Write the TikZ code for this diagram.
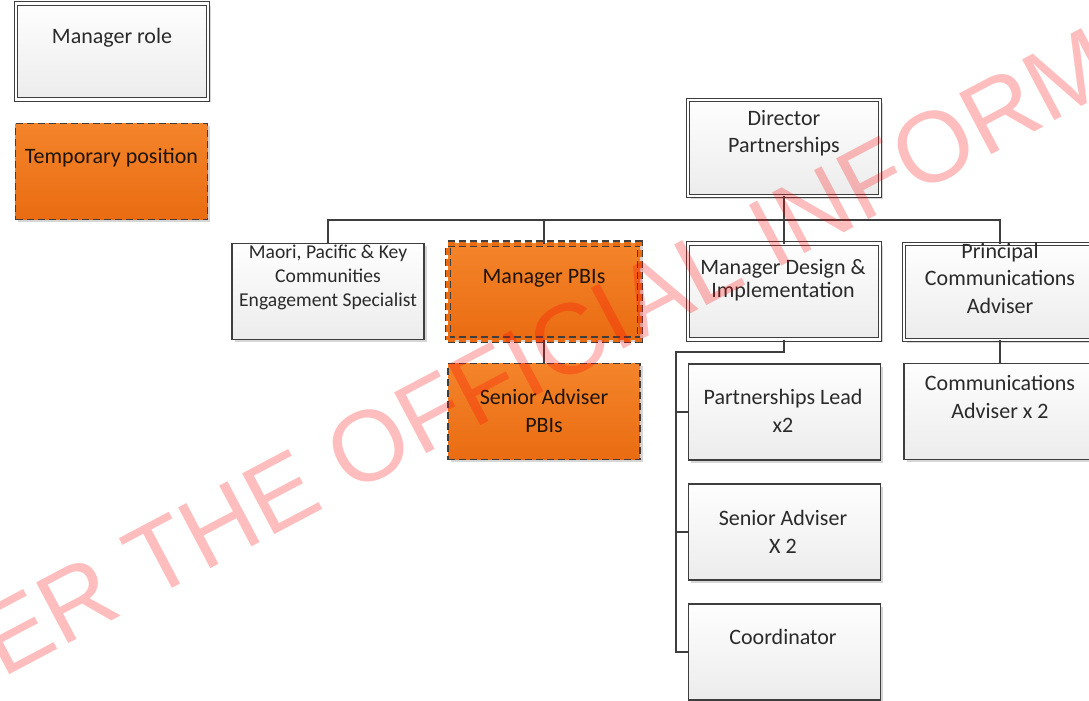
\documentclass[tikz,border=0pt]{standalone}
\usepackage{fontspec}
\setmainfont{Carlito}
\newfontfamily\wmfont{Liberation Sans}
\usetikzlibrary{shadows}
\definecolor{edge}{RGB}{62,62,62}
\definecolor{ink}{RGB}{42,42,42}
\definecolor{inkdark}{RGB}{30,20,12}
\definecolor{boxtop}{RGB}{254,254,254}
\definecolor{boxbot}{RGB}{236,236,236}
\definecolor{orgtop}{RGB}{244,132,42}
\definecolor{orgbot}{RGB}{234,108,18}
\definecolor{wmred}{RGB}{255,0,0}

\begin{document}
\begin{tikzpicture}[x=1pt,y=-1pt,
  box/.style={rectangle, minimum width=192pt, minimum height=96pt,
    inner sep=0pt, outer sep=0pt, draw=edge, line width=1.3pt,
    top color=boxtop, bottom color=boxbot,
    drop shadow={shadow xshift=2.5pt, shadow yshift=-2.5pt, fill=black!16, opacity=1}},
  mgrbox/.style={box, double=white, double distance=2.4pt, line width=1.1pt},
  tempbox/.style={box, top color=orgtop, bottom color=orgbot,
    dash pattern=on 7pt off 4pt},
  tempmgrbox/.style={tempbox, double=orgbot, double distance=4pt, line width=1.1pt},
  txt/.style={align=center, text=ink, inner sep=0pt,
    font=\fontsize{22}{27.5}\selectfont},
  txtdark/.style={txt, text=inkdark},
  link/.style={draw=edge, line width=1.3pt},
]
\useasboundingbox (0,0) rectangle (1089,701);

% legend
\node[mgrbox] (role) at (112,51.5) {};
\node[txt] (roleT) at (112,38) {Manager role};
\node[tempbox] (temp) at (111.5,171.5) {};
\node[txtdark] (tempT) at (111.5,158) {Temporary position};

% boxes
\node[mgrbox] (dir) at (784,148) {};
\node[box] (maori) at (328,291.5) {};
\node[tempmgrbox] (pbi) at (544,291.5) {};
\node[tempbox] (spbi) at (544,411.5) {};
\node[mgrbox] (mdi) at (784,291.5) {};
\node[mgrbox] (pca) at (1000,292) {};
\node[box] (cadv) at (1000,411.5) {};
\node[box] (pl) at (784.5,412) {};
\node[box] (sa) at (784.5,532) {};
\node[box] (coord) at (784.5,652) {};

% box texts
\node[txt] (dirT) at (784,133) {Director\\Partnerships};
\node[txt, font=\fontsize{19.6}{24}\selectfont] (maoriT) at (328,277)
  {Maori, Pacific \& Key\\Communities\\Engagement Specialist};
\node[txtdark] (pbiT) at (544,278) {Manager PBIs};
\node[txt, font=\fontsize{22}{22.5}\selectfont] (mdiT) at (783,280)
  {Manager Design \&\\Implementation};
\node[txt] (pcaT) at (1000,278) {Principal\\Communications\\Adviser};
\node[txtdark] (spbiT) at (544,411) {Senior Adviser\\PBIs};
\node[txt] (plT) at (783,411) {Partnerships Lead\\x2};
\node[txt] (cadvT) at (1000,397) {Communications\\Adviser x 2};
\node[txt] (saT) at (783,532) {Senior Adviser\\X 2};
\node[txt] (coordT) at (783,637) {Coordinator};

% connectors
\coordinate (bus) at (784,220);
\coordinate (spine) at (676,352);
\draw[link] (dir.south) -- (bus);
\draw[link] (maori.north) |- (bus) -| (pca.north);
\draw[link] (pbi.north) -- (pbi.north |- bus);
\draw[link] (mdi.north) -- (mdi.north |- bus);
\draw[link] (pbi.south) -- (spbi.north);
\draw[link] (pca.south) -- (cadv.north);
\draw[link] (mdi.south) -- (mdi.south |- spine) -- (spine)
  -- (spine |- coord.west) -- (coord.west);
\draw[link] (spine |- pl.west) -- (pl.west);
\draw[link] (spine |- sa.west) -- (sa.west);

% watermark
\begin{scope}
\clip (0,0) rectangle (1089,701);
\node[rotate=27.9, anchor=base west, inner sep=0pt, text=wmred, text opacity=0.26,
  font=\wmfont\fontsize{100}{100}\selectfont] (wmark) at (2,678.7)
  {ER THE OFFICIAL INFORM};
\end{scope}
\end{tikzpicture}
\end{document}
